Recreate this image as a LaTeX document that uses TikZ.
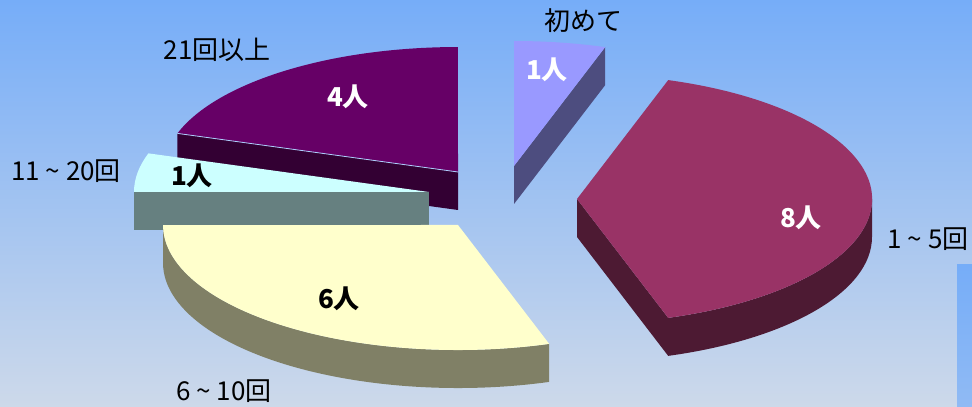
\documentclass[tikz,border=0pt]{standalone}
\usepackage{fontspec}
\usetikzlibrary{calc}
\setmainfont{Noto Sans CJK JP}

\definecolor{bgtop}{HTML}{76ADF8}
\definecolor{bgbot}{HTML}{CDD9EA}
\definecolor{firsttop}{HTML}{9999FF}
\definecolor{firstside}{HTML}{4D4D7F}
\definecolor{lowtop}{HTML}{993366}
\definecolor{lowside}{HTML}{4D1A33}
\definecolor{midtop}{HTML}{FFFFCC}
\definecolor{midside}{HTML}{808066}
\definecolor{hightop}{HTML}{CCFFFF}
\definecolor{highside}{HTML}{668080}
\definecolor{maxtop}{HTML}{660066}
\definecolor{maxside}{HTML}{330033}

\newcommand{\kara}{\makebox[1em]{\textasciitilde}}

\begin{document}
\begin{tikzpicture}[x=1pt,y=1pt,
    cat/.style={font=\fontsize{26}{28}\selectfont, inner sep=0pt},
    num/.style={font=\fontsize{26}{28}\selectfont\bfseries, inner sep=0pt},
    rim/.style={x radius=295, y radius=125}]

    \useasboundingbox (0,0) rectangle (972,407);
    \shade [top color=bgtop, bottom color=bgbot] (0,0) rectangle (972,407);
    \shade [top color=bgtop, bottom color=bgtop!70!bgbot] (957,0) rectangle (972,142);

    % apex of each slice
    \coordinate (cmax) at (458,235);
    \coordinate (chigh) at (429,215);
    \coordinate (cmid) at (458,182);
    \coordinate (clow) at (577,208);
    \coordinate (cfirst) at (514,241);

    % 21 and more
    \fill [maxside] (cmax) -- ++(-280.6,38.6) -- ++(0,-38) -- ($(cmax)+(0,-38)$) -- cycle;
    \fill [maxtop] (cmax) -- ++(-280.6,38.6) arc [start angle=162, end angle=90, rim] -- cycle;
    \draw [line width=0.8pt, bgtop!60!white] (cmax) -- ++(-280.6,38.6);

    % 11 to 20
    \fill [highside] (chigh) -- ++(-295,0) -- ++(0,-38) -- ++(295,0) -- cycle;
    \fill [hightop] (chigh) -- ++(-295,0) arc [start angle=180, end angle=162, rim] -- cycle;

    % 6 to 10
    \fill [midside] ($(cmid)+(91.2,-118.9)$) arc [start angle=-72, end angle=-180, rim]
        -- ++(0,-38) arc [start angle=-180, end angle=-72, rim] -- cycle;
    \fill [midtop] (cmid) -- ++(91.2,-118.9) arc [start angle=-72, end angle=-180, rim] -- cycle;

    % 1 to 5
    \fill [lowside] (clow) -- ++(91.2,-118.9) -- ++(0,-38) -- ($(clow)+(0,-38)$) -- cycle;
    \fill [lowside] ($(clow)+(295,0)$) arc [start angle=0, end angle=-72, rim]
        -- ++(0,-38) arc [start angle=-72, end angle=0, rim] -- cycle;
    \fill [lowtop] (clow) -- ++(91.2,118.9) arc [start angle=72, end angle=-72, rim] -- cycle;

    % first time
    \fill [firstside] (cfirst) -- ++(91.2,118.9) -- ++(0,-38) -- ($(cfirst)+(0,-38)$) -- cycle;
    \fill [firsttop] (cfirst) -- ++(0,125) arc [start angle=90, end angle=72, rim] -- cycle;

    \node [cat] (lfirst) at (583.5,386) {初めて};
    \node [cat] (llow) at (928,168) {1\kara 5回};
    \node [cat] (lmid) at (224,16) {6\kara 10回};
    \node [cat] (lhigh) at (66,235.5) {11\kara 20回};
    \node [cat] (lmax) at (217,357) {21回以上};

    \node [num, white] (nfirst) at (547,337) {1人};
    \node [num, white] (nlow) at (801,189) {8人};
    \node [num] (nmid) at (339,108.5) {6人};
    \node [num] (nhigh) at (192,231) {1人};
    \node [num, white] (nmax) at (348,310) {4人};

\end{tikzpicture}
\end{document}
